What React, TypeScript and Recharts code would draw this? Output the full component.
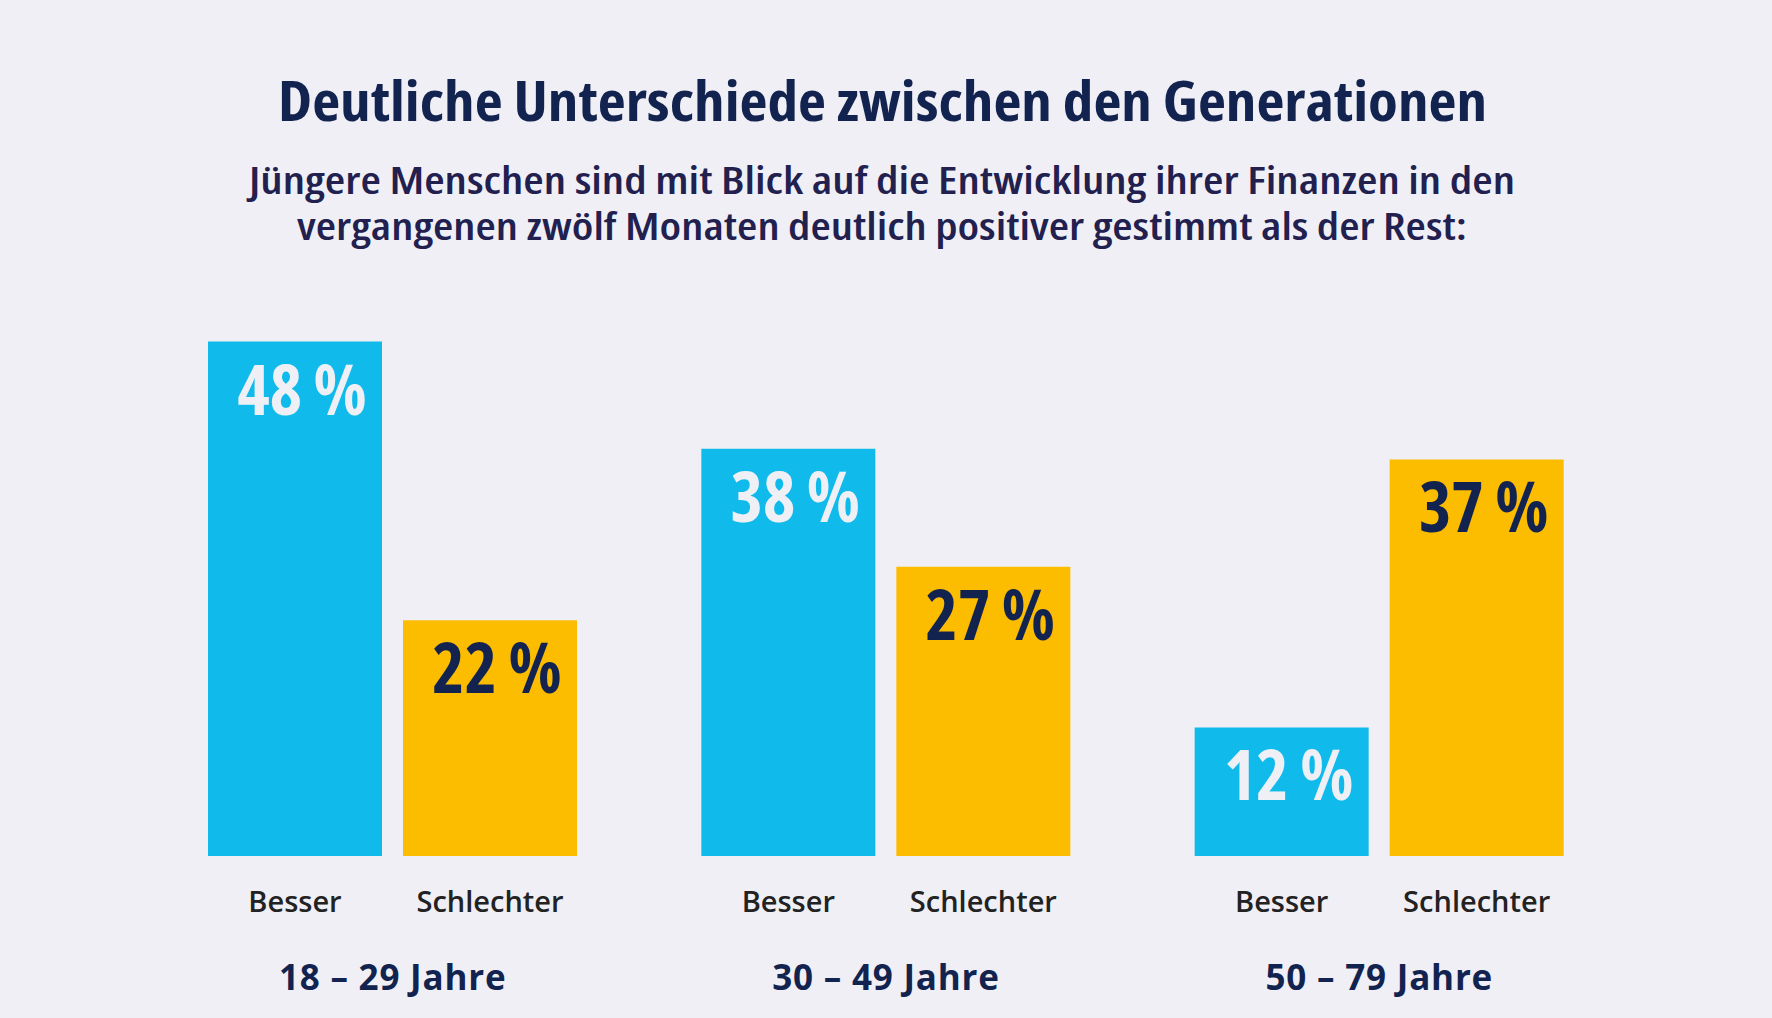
import React from "react";
import { BarChart, Bar, XAxis, YAxis, LabelList } from "recharts";

// Survey result: share of respondents whose finances got better / worse, by age group
const ageGroups = ["18 – 29 Jahre", "30 – 49 Jahre", "50 – 79 Jahre"];
const besserValues = [48, 38, 12];
const schlechterValues = [22, 27, 37];
const seriesNames = ["Besser", "Schlechter"];

const titleText = "Deutliche Unterschiede zwischen den Generationen";
const subtitleLines = [
  "Jüngere Menschen sind mit Blick auf die Entwicklung ihrer Finanzen in den",
  "vergangenen zwölf Monaten deutlich positiver gestimmt als der Rest:",
];

const data = ageGroups.map((g, i) => ({
  group: g,
  besser: besserValues[i],
  schlechter: schlechterValues[i],
}));

const W = 1772;
const H = 1018;
const BG = "#efeff5";
const BLUE = "#10bbec";
const YELLOW = "#fcbc00";
const NAVY = "#13234f";
const FONT = "'Open Sans', 'Noto Sans', sans-serif";

const makeValueLabel = (color: string) => (props: any) => {
  const { x, y, width, value } = props;
  return (
    <text
      x={Number(x) + Number(width) / 2 + 7}
      y={Number(y) + 73}
      textAnchor="middle"
      fill={color}
      fontFamily={FONT}
      fontWeight={700}
      fontSize={69}
      style={{ fontStretch: "84%" }}
    >
      {`${value}\u2009%`}
    </text>
  );
};

const makeNameLabel = (name: string) => (props: any) => {
  const { x, y, width, height } = props;
  return (
    <text
      x={Number(x) + Number(width) / 2}
      y={Number(y) + Number(height) + 56}
      textAnchor="middle"
      fill="#222222"
      fontFamily={FONT}
      fontWeight={600}
      fontSize={29}
      style={{ fontStretch: "96%" }}
    >
      {name}
    </text>
  );
};

const GroupTick = (props: any) => {
  const { x, y, payload } = props;
  return (
    <text
      x={x}
      y={Number(y) + 134}
      textAnchor="middle"
      fill={NAVY}
      fontFamily={FONT}
      fontWeight={700}
      fontSize={35}
      letterSpacing={0.8}
      style={{ fontStretch: "100%" }}
    >
      {payload.value}
    </text>
  );
};

export default function App() {
  return (
    <div
      style={{
        position: "absolute",
        left: 0,
        top: 0,
        width: W,
        height: H,
        background: BG,
        overflow: "hidden",
      }}
    >
      <svg
        width={W}
        height={260}
        style={{ position: "absolute", left: 0, top: 0 }}
      >
        <text
          x={882.5}
          y={121}
          textAnchor="middle"
          fill={NAVY}
          fontFamily={FONT}
          fontWeight={700}
          fontSize={56}
          textLength={1209}
          lengthAdjust="spacingAndGlyphs"
          style={{ fontStretch: "75%" }}
        >
          {titleText}
        </text>
        <text
          x={882}
          y={194}
          textAnchor="middle"
          fill="#22204f"
          fontFamily={FONT}
          fontWeight={650}
          fontSize={37}
          textLength={1266}
          lengthAdjust="spacingAndGlyphs"
          style={{ fontStretch: "75%" }}
        >
          {subtitleLines[0]}
        </text>
        <text
          x={882}
          y={240}
          textAnchor="middle"
          fill="#22204f"
          fontFamily={FONT}
          fontWeight={650}
          fontSize={37}
          textLength={1170}
          lengthAdjust="spacingAndGlyphs"
          style={{ fontStretch: "75%" }}
        >
          {subtitleLines[1]}
        </text>
      </svg>
      <div style={{ position: "absolute", left: 0, top: 0 }}>
        <BarChart
          width={W}
          height={H}
          data={data}
          margin={{ top: 213, right: 146, bottom: 22, left: 146 }}
          barCategoryGap={62}
          barGap={21}
        >
          <YAxis hide domain={[0, 60]} />
          <XAxis
            dataKey="group"
            height={140}
            axisLine={false}
            tickLine={false}
            tickSize={0}
            tickMargin={0}
            tick={<GroupTick />}
            interval={0}
          />
          <Bar dataKey="besser" fill={BLUE} barSize={174} isAnimationActive={false}>
            <LabelList dataKey="besser" content={makeValueLabel("#eef0f6")} />
            <LabelList dataKey="besser" content={makeNameLabel(seriesNames[0])} />
          </Bar>
          <Bar dataKey="schlechter" fill={YELLOW} barSize={174} isAnimationActive={false}>
            <LabelList dataKey="schlechter" content={makeValueLabel(NAVY)} />
            <LabelList dataKey="schlechter" content={makeNameLabel(seriesNames[1])} />
          </Bar>
        </BarChart>
      </div>
    </div>
  );
}
